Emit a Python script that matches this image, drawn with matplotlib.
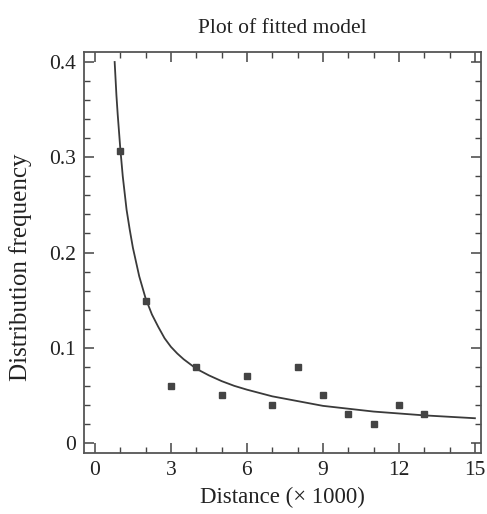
import numpy as np
import matplotlib.pyplot as plt
from matplotlib.ticker import MultipleLocator

plt.rcParams['font.family'] = ['Liberation Serif', 'DejaVu Serif']

# observed points
dist = [1, 2, 3, 4, 5, 6, 7, 8, 9, 10, 11, 12, 13]
freq = [0.307, 0.149, 0.06, 0.08, 0.05, 0.07, 0.04, 0.08, 0.05, 0.03, 0.02, 0.04, 0.03]

# fitted curve
fit_x = [0.78, 0.85, 0.9, 1.0, 1.1, 1.25, 1.375, 1.5, 1.75, 2.0, 2.25, 2.5, 2.75, 3.0,
         3.25, 3.5, 3.75, 4.0, 4.5, 5, 5.5, 6, 7, 8, 9, 10, 11, 12, 13, 14, 15]
fit_y = [0.40, 0.365, 0.345, 0.31, 0.280, 0.245, 0.224, 0.205, 0.175, 0.152, 0.135,
         0.122, 0.110, 0.101, 0.094, 0.088, 0.083, 0.078, 0.071, 0.065, 0.060,
         0.056, 0.049, 0.044, 0.039, 0.036, 0.033, 0.031, 0.029, 0.0275, 0.026]

xticks = [0, 3, 6, 9, 12, 15]
yticks = [0, 0.1, 0.2, 0.3, 0.4]
ytick_labels = ['0', '0.1', '0.2', '0.3', '0.4']

fig = plt.figure(figsize=(4.87, 5.14), dpi=100)
ax = fig.add_axes([84 / 487, 1 - 453 / 514, 397 / 487, 401 / 514])

ax.plot(fit_x, fit_y, color='#3a3a3a', linewidth=1.3)
ax.plot(dist, freq, 's', color='#444444', markersize=4)

ax.set_xlim(-0.43, 15.24)
ax.set_ylim(-0.0105, 0.4105)
ax.set_xticks(xticks)
ax.set_yticks(yticks)
ax.set_yticklabels(ytick_labels)
ax.xaxis.set_minor_locator(MultipleLocator(1))
ax.yaxis.set_minor_locator(MultipleLocator(0.02))

ax.tick_params(which='both', direction='in', top=True, right=True,
               color='#444444', labelsize=15.5, labelcolor='#222222')
ax.tick_params(which='major', length=7, width=1.1, pad=6)
ax.tick_params(which='minor', length=4, width=1.0)
for s in ax.spines.values():
    s.set_color('#555555')
    s.set_linewidth(1.3)

ax.set_title("Plot of fitted model", fontsize=15.5, color='#222222', pad=14)
ax.set_xlabel("Distance (× 1000)", fontsize=16.5, color='#222222', labelpad=5)
ax.set_ylabel("Distribution frequency", fontsize=18, color='#222222')
ax.yaxis.set_label_coords(-0.13, 0.463)

fig.savefig("out.png", dpi=100)
